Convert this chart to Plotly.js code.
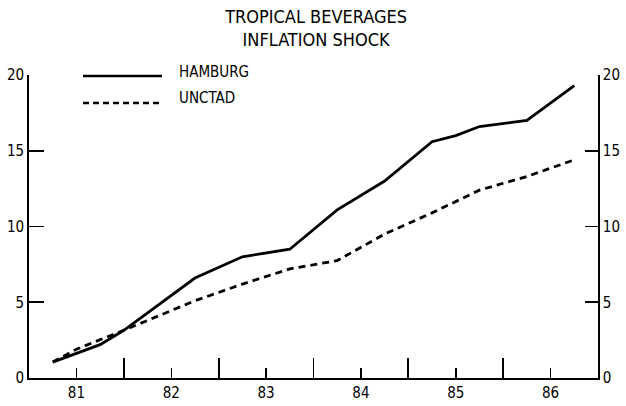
<!DOCTYPE html>
<html>
<head>
<meta charset="utf-8">
<script src="https://cdn.plot.ly/plotly-3.0.1.min.js"></script>
<style>html,body{margin:0;padding:0;background:#fff;}#chart{width:626px;height:406px;}</style>
</head>
<body>
<div id="chart"></div>
<script>
// Data (x in decimal years)
const hamburgX = [80.75, 81.25, 81.5, 82.25, 82.75, 83.25, 83.75, 84.25, 84.75, 85.0, 85.25, 85.75, 86.25];
const hamburgY = [1.05, 2.2, 3.15, 6.6, 8.0, 8.5, 11.1, 13.0, 15.6, 16.0, 16.6, 17.0, 19.3];
const unctadX = [80.75, 81.0, 81.5, 82.25, 82.75, 83.25, 83.75, 84.25, 84.75, 85.25, 85.75, 86.25];
const unctadY = [1.05, 1.9, 3.15, 5.1, 6.2, 7.2, 7.75, 9.5, 10.9, 12.4, 13.3, 14.4];
const yearTicks = [81, 82, 83, 84, 85, 86];
const yearLabels = ['81', '82', '83', '84', '85', '86'];
const halfYearTicks = [81.5, 82.5, 83.5, 84.5, 85.5];
const yTicks = [0, 5, 10, 15, 20];
const seriesNames = ['HAMBURG', 'UNCTAD'];

const FONT = '"DejaVu Sans Condensed", "Liberation Sans Narrow", "DejaVu Sans", sans-serif';

const traces = [
  {x: hamburgX, y: hamburgY, name: seriesNames[0], mode: 'lines', type: 'scatter',
   line: {color: '#000', width: 2.8}, showlegend: false, hoverinfo: 'skip'},
  {x: unctadX, y: unctadY, name: seriesNames[1], mode: 'lines', type: 'scatter',
   line: {color: '#000', width: 2.8, dash: '7px,5px'}, showlegend: false, hoverinfo: 'skip'},
  // invisible trace to bind the right-hand axis
  {x: [80.5], y: [0], yaxis: 'y2', mode: 'markers', marker: {opacity: 0}, showlegend: false, hoverinfo: 'skip'}
];

const legendLineX0 = 0.0949, legendLineX1 = 0.2337, legendTextX = 0.2601;

const layout = {
  width: 626, height: 406,
  margin: {l: 29, r: 28, t: 75, b: 28, pad: 0},
  paper_bgcolor: '#fff', plot_bgcolor: '#fff',
  font: {family: FONT, color: '#000', size: 15},
  title: {
    text: 'TROPICAL BEVERAGES<br>INFLATION SHOCK',
    font: {family: FONT, size: 18, color: '#000'},
    x: 0.505, xanchor: 'center', y: 0.944, yanchor: 'top'
  },
  xaxis: {
    range: [80.5, 86.5], showgrid: false, zeroline: false,
    showline: true, linecolor: '#000', linewidth: 2,
    tickmode: 'array', tickvals: yearTicks, ticktext: yearLabels,
    ticks: 'inside', ticklen: 10, tickwidth: 1.5, tickcolor: '#000',
    tickfont: {family: FONT, size: 15, color: '#000'},
    minor: {tickmode: 'array', tickvals: halfYearTicks, ticks: 'inside', ticklen: 20, tickwidth: 1.8, tickcolor: '#000', showgrid: false}
  },
  yaxis: {
    range: [0, 20], showgrid: false, zeroline: false,
    showline: true, linecolor: '#000', linewidth: 1.8,
    tickmode: 'array', tickvals: yTicks,
    ticks: 'inside', ticklen: 15, tickwidth: 1.8, tickcolor: '#000',
    tickfont: {family: FONT, size: 15, color: '#000'}
  },
  yaxis2: {
    range: [0, 20], overlaying: 'y', side: 'right', showgrid: false, zeroline: false,
    showline: true, linecolor: '#000', linewidth: 1.8,
    tickmode: 'array', tickvals: yTicks,
    ticks: 'inside', ticklen: 13, tickwidth: 1.8, tickcolor: '#000',
    tickfont: {family: FONT, size: 15, color: '#000'}
  },
  shapes: [
    {type: 'line', xref: 'paper', yref: 'paper', x0: legendLineX0, x1: legendLineX1, y0: 0.9967, y1: 0.9967,
     line: {color: '#000', width: 2.5}},
    {type: 'line', xref: 'paper', yref: 'paper', x0: legendLineX0, x1: legendLineX1, y0: 0.9076, y1: 0.9076,
     line: {color: '#000', width: 2.5, dash: '6px,4px'}}
  ],
  annotations: [
    {text: seriesNames[0], xref: 'paper', yref: 'paper', x: legendTextX, y: 1.0099, xanchor: 'left', yanchor: 'middle',
     showarrow: false, font: {family: FONT, size: 15, color: '#000'}},
    {text: seriesNames[1], xref: 'paper', yref: 'paper', x: legendTextX, y: 0.924, xanchor: 'left', yanchor: 'middle',
     showarrow: false, font: {family: FONT, size: 15, color: '#000'}}
  ]
};

Plotly.newPlot('chart', traces, layout, {displayModeBar: false, staticPlot: true});
</script>
</body>
</html>
